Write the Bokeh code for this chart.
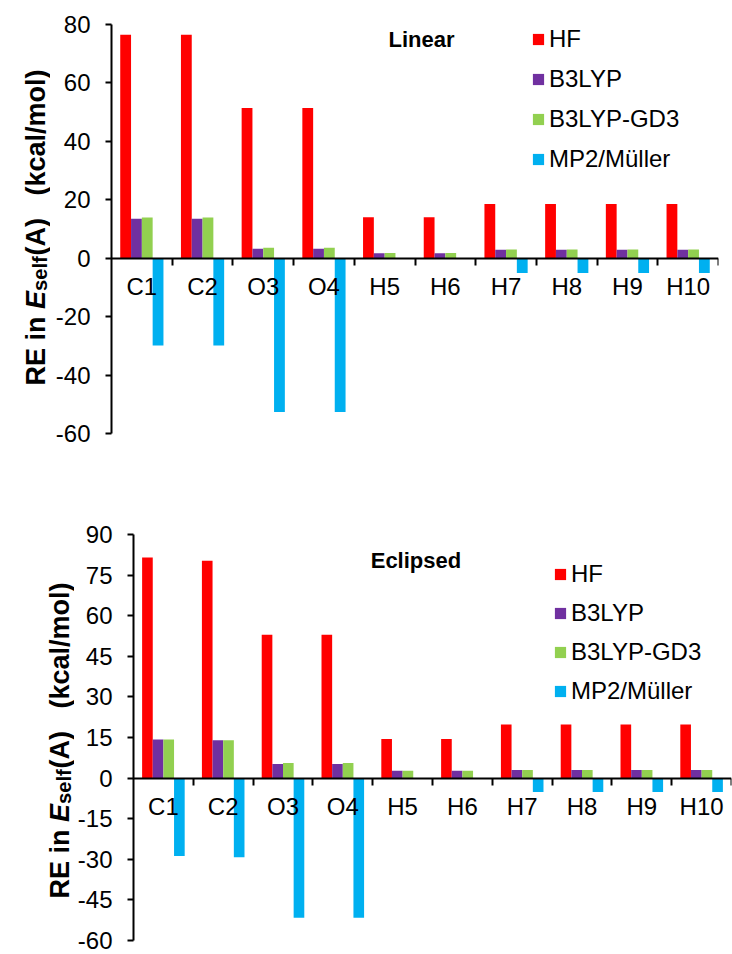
from math import pi
import numpy as np
from bokeh.plotting import figure
from bokeh.layouts import column, row
from bokeh.models import Range1d, FixedTicker, LinearAxis, Label, Spacer
from bokeh.core.properties import value
from bokeh.embed import file_html
from bokeh.resources import INLINE

# ---------------- data ----------------
categories = ["C1", "C2", "O3", "O4", "H5", "H6", "H7", "H8", "H9", "H10"]
series_names = ["HF", "B3LYP", "B3LYP-GD3", "MP2/Müller"]

linear_hf = [76.5, 76.5, 51.4, 51.4, 14.0, 14.0, 18.6, 18.6, 18.6, 18.6]
linear_b3lyp = [13.5, 13.5, 3.2, 3.2, 1.7, 1.7, 2.9, 2.9, 2.9, 2.9]
linear_gd3 = [13.9, 13.9, 3.6, 3.6, 1.8, 1.8, 3.0, 3.0, 3.0, 3.0]
linear_mp2 = [-29.9, -29.9, -52.6, -52.6, -0.2, -0.2, -5.1, -5.1, -5.1, -5.1]

eclipsed_hf = [81.5, 80.3, 53.0, 53.0, 14.4, 14.4, 19.8, 19.8, 19.8, 19.8]
eclipsed_b3lyp = [14.3, 14.0, 5.2, 5.2, 2.7, 2.7, 3.0, 3.0, 3.0, 3.0]
eclipsed_gd3 = [14.3, 14.0, 5.6, 5.6, 2.7, 2.7, 3.0, 3.0, 3.0, 3.0]
eclipsed_mp2 = [-28.8, -29.2, -51.6, -51.6, -0.2, -0.2, -5.1, -5.1, -5.1, -5.1]

linear_yticks = [-60, -40, -20, 0, 20, 40, 60, 80]
eclipsed_yticks = [-60, -45, -30, -15, 0, 15, 30, 45, 60, 75, 90]

ylabel_parts = ["RE in", "E", "self", "(A)", "(kcal/mol)"]

colors = ["#FF0000", "#7030A0", "#92D050", "#00B0F0"]
FONT = "Liberation Sans"


def make_ylabel(W, H, bt, bb, yticks, base_x, start_y, s):
    """Separate narrow figure holding the rotated y-axis title.
    start_y is measured in px from the top of the chart frame."""
    ymin, ymax = yticks[0], yticks[-1]
    FH = H - bt - bb
    q = figure(width=W, height=H, x_range=Range1d(0, W), y_range=Range1d(ymin, ymax),
               output_backend="svg", toolbar_location=None, title=None,
               x_axis_location=None, y_axis_location=None,
               min_border_left=0, min_border_right=0,
               min_border_top=bt, min_border_bottom=bb)
    q.outline_line_color = None
    q.grid.grid_line_color = None

    def dy(py):
        return ymax - py / FH * (ymax - ymin)

    # (offset along the text from its start in px, font size, style, baseline shift)
    layout = [(0, s, "bold", 0), (76.5, s, "bold italic", 0), (94.5, 0.75 * s, "bold", 4),
              (130, s, "bold", 0), (190, s, "bold", 0)]
    for t, (off, fs, st, shift) in zip(ylabel_parts, layout):
        q.text(x=[base_x + shift], y=[dy(start_y - off)], text=[t], angle=pi / 2,
               text_font=value(FONT), text_font_style=value(st),
               text_font_size=value(f"{fs:.1f}px"), text_align=value("left"),
               text_baseline=value("alphabetic"), text_color="black")
    return q


def make_chart(title, vals, yticks, W, H, bl, br, bt, bb, title_xy, legend_xy, spacing):
    ymin, ymax = yticks[0], yticks[-1]
    p = figure(width=W, height=H, x_range=Range1d(0.5, 10.5),
               y_range=Range1d(ymin, ymax), output_backend="svg",
               toolbar_location=None, title=None, x_axis_location=None,
               min_border_left=bl, min_border_right=br, min_border_top=bt,
               min_border_bottom=bb)
    p.outline_line_color = None
    p.grid.grid_line_color = None
    p.background_fill_color = "white"
    p.border_fill_color = "white"

    FW = W - bl - br
    FH = H - bt - bb

    def dx(px):  # px relative to frame left
        return 0.5 + px / FW * 10.0

    def dy(py):  # py relative to frame top
        return ymax - py / FH * (ymax - ymin)

    idx = np.arange(1, len(categories) + 1, dtype=float)
    bw = 0.178
    offsets = (np.arange(4) - 1.5) * bw
    for k in range(4):
        p.vbar(x=idx + offsets[k], top=vals[k], width=bw, color=colors[k],
               line_color=None, legend_label=series_names[k])

    ya = p.yaxis[0]
    ya.ticker = FixedTicker(ticks=yticks)
    ya.major_label_overrides = {t: str(t) for t in yticks}
    ya.axis_line_width = 2
    ya.axis_line_color = "black"
    ya.major_tick_line_width = 2
    ya.major_tick_out = 6
    ya.major_tick_in = 0
    ya.minor_tick_line_color = None
    ya.major_label_standoff = 15
    ya.major_label_text_font = FONT
    ya.major_label_text_font_size = "24px"
    ya.major_label_text_color = "black"

    ax_t = LinearAxis(ticker=FixedTicker(ticks=list(idx + 0.5)), fixed_location=0,
                      axis_line_width=2, axis_line_color="black",
                      major_tick_line_width=2, major_tick_out=7, major_tick_in=0,
                      minor_tick_line_color=None, major_label_text_color=None)
    p.add_layout(ax_t, "below")
    ax_l = LinearAxis(ticker=FixedTicker(ticks=list(idx)), fixed_location=0,
                      axis_line_color=None, major_tick_line_color=None,
                      minor_tick_line_color=None, major_tick_out=0, major_tick_in=0,
                      major_label_standoff=15,
                      major_label_overrides={int(i): c for i, c in zip(idx, categories)},
                      major_label_text_font=FONT, major_label_text_font_size="24px",
                      major_label_text_color="black")
    p.add_layout(ax_l, "below")

    lg = p.legend[0]
    lg.location = legend_xy
    lg.padding = 0
    lg.margin = 0
    lg.spacing = spacing
    lg.label_height = 27
    lg.glyph_width = 14
    lg.glyph_height = 14
    lg.label_standoff = 4
    lg.border_line_color = None
    lg.background_fill_alpha = 0
    lg.label_text_font = FONT
    lg.label_text_font_size = "24px"
    lg.label_text_color = "black"

    p.add_layout(Label(x=dx(title_xy[0]), y=dy(title_xy[1]), text=title,
                       text_font=FONT, text_font_style="bold",
                       text_font_size="22px", text_baseline="middle",
                       text_align="left", text_color="black"))
    return p


# top: label column 50 + chart 669 (frame 111..718) + spacer 13
yl1 = make_ylabel(50, 477, 24, 44, linear_yticks, 35, 385 - 24, 27)
p1 = make_chart("Linear", [linear_hf, linear_b3lyp, linear_gd3, linear_mp2],
                linear_yticks, 669, 477, 61, 1, 24, 44,
                (388 - 111, 38.5 - 24), (420, 260), 12)
r1 = row(yl1, p1, Spacer(width=13, height=477), spacing=0)

# bottom: label column 74 + chart 658 (frame 131..731)
yl2 = make_ylabel(74, 477, 57, 14, eclipsed_yticks, 59, 898 - 534, 27)
p2 = make_chart("Eclipsed", [eclipsed_hf, eclipsed_b3lyp, eclipsed_gd3, eclipsed_mp2],
                eclipsed_yticks, 658, 477, 57, 1, 57, 14,
                (369 - 131, 560 - 534), (420, 235), 11)
r2 = row(yl2, p2, spacing=0)

layout = column(r1, r2, spacing=0)
open("out.html", "w").write(file_html(layout, INLINE))
